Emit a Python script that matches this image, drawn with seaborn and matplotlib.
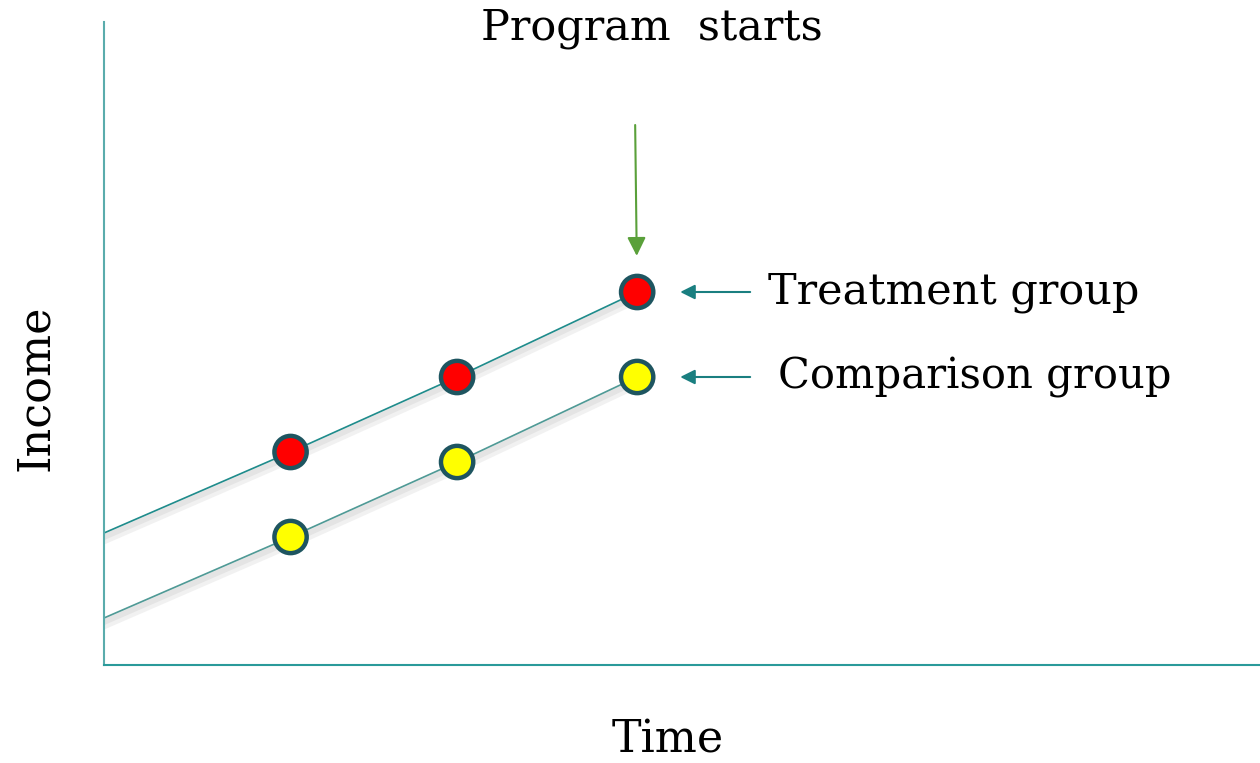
import matplotlib
matplotlib.use("Agg")
import matplotlib.pyplot as plt
import matplotlib.patheffects as pe
import seaborn as sns
import pandas as pd

# ---- data ----
time_line = [0.0, 1.036, 1.961, 2.961]          # line start + three observation times
treatment_income = [1.32, 2.13, 2.88, 3.73]
comparison_income = [0.47, 1.28, 2.03, 2.88]
group_labels = ["Treatment group", "Comparison group"]
x_label = "Time"
y_label = "Income"
event_label = "Program  starts"

sns.set_style("white")
plt.rcParams["font.family"] = ["DejaVu Serif"]
plt.rcParams["text.color"] = "black"

df = pd.DataFrame({
    "time": time_line * 2,
    "income": treatment_income + comparison_income,
    "group": [group_labels[0]] * 4 + [group_labels[1]] * 4,
})
pts = df[df["time"] > 0]

fig = plt.figure(figsize=(12.6, 7.63), dpi=100)
ax = fig.add_axes([104 / 1260, (763 - 665) / 763, 1156 / 1260, 643 / 763])

line_colors = {group_labels[0]: "#1f8c8c", group_labels[1]: "#4f9a96"}
shadow = [pe.SimpleLineShadow(offset=(0, -4), shadow_color="#c8c8c8", alpha=0.25, linewidth=8),
          pe.SimpleLineShadow(offset=(0, -3), shadow_color="#b0b0b0", alpha=0.2, linewidth=4),
          pe.Normal()]
sns.lineplot(data=df, x="time", y="income", hue="group", palette=line_colors,
             linewidth=1.2, legend=False, ax=ax, path_effects=shadow)
sns.scatterplot(data=pts, x="time", y="income", hue="group",
                palette={group_labels[0]: "#ff0000", group_labels[1]: "#ffff00"},
                s=540, edgecolor="#1e5560", linewidth=3.2, legend=False, ax=ax, zorder=5)

ax.set_xlim(0, 6.42)
ax.set_ylim(0, 6.43)
ax.set_xticks([])
ax.set_yticks([])
ax.set_xlabel("")
ax.set_ylabel("")
for s in ["top", "right"]:
    ax.spines[s].set_visible(False)
ax.spines["left"].set_color("#5aacac")
ax.spines["left"].set_linewidth(1.5)
ax.spines["bottom"].set_color("#2a9a9a")
ax.spines["bottom"].set_linewidth(1.5)

# group labels with arrows pointing at the last observation
for lab, vals in zip(group_labels, [treatment_income, comparison_income]):
    ax.annotate("", xy=(time_line[-1], vals[-1]), xytext=(113, 0), textcoords="offset pixels",
                arrowprops=dict(arrowstyle="-|>", color="#1a7f80", lw=1.5,
                                shrinkA=0, shrinkB=31, mutation_scale=22))
ax.annotate(group_labels[0], xy=(time_line[-1], treatment_income[-1]), xytext=(131, 0),
            textcoords="offset pixels", fontsize=31, va="center", ha="left")
ax.annotate(group_labels[1], xy=(time_line[-1], comparison_income[-1]), xytext=(141, 0),
            textcoords="offset pixels", fontsize=30, va="center", ha="left")

# program start arrow
ax.annotate("", xy=(time_line[-1], treatment_income[-1]), xytext=(-2, 167),
            textcoords="offset pixels",
            arrowprops=dict(arrowstyle="-|>", color="#5aa03a", lw=1.5,
                            shrinkA=0, shrinkB=26, mutation_scale=28))

fig.text(652 / 1260, 1 - 28 / 763, event_label, fontsize=31, ha="center", va="center")
fig.text(668 / 1260, 1 - 740 / 763, x_label, fontsize=32, ha="center", va="center")
fig.text(35 / 1260, 1 - 388 / 763, y_label, fontsize=32, ha="center", va="center",
         rotation=90)

fig.savefig("out.png", dpi=100)
